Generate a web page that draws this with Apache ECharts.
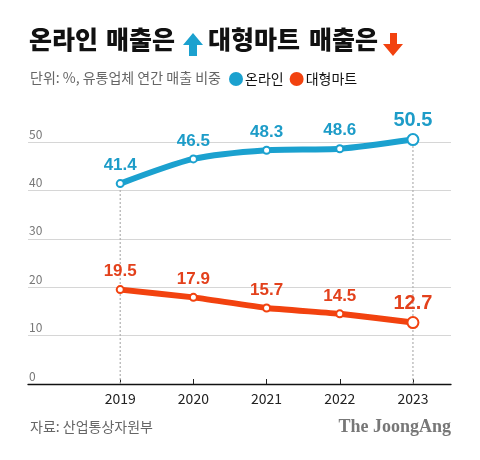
<!DOCTYPE html>
<html><head><meta charset="utf-8">
<script src="https://cdn.jsdelivr.net/npm/echarts@6/dist/echarts.min.js"></script>
<style>html,body{margin:0;padding:0;background:#fff}#c{width:480px;height:460px}</style>
</head><body><div id="c"></div>
<script>
var years = [2019, 2020, 2021, 2022, 2023];
var online = [41.4, 46.5, 48.3, 48.6, 50.5];
var mart = [19.5, 17.9, 15.7, 14.5, 12.7];
var yTicks = [0, 10, 20, 30, 40, 50];
var seriesNames = ['온라인', '대형마트'];
var guideYears = [2019, 2023];

var BLUE = '#1ba1cf', RED = '#f2420f';
var FONT = '"Noto Sans CJK KR", "Noto Sans", sans-serif';
var TF = '900 25px ' + FONT;

function pts(vals) {
  return vals.map(function (v, i) {
    var last = i === vals.length - 1;
    return {
      value: [years[i], v],
      symbolSize: last ? 11 : 7,
      label: { fontSize: last ? 20 : 17, distance: last ? 3 : 5 }
    };
  });
}

var guideSeries = guideYears.map(function (yr) {
  var top = online[years.indexOf(yr)];
  return {
    type: 'line', data: [[yr, 0], [yr, top]], symbol: 'none', silent: true, clip: false, z: 1,
    lineStyle: { color: '#b0b0b0', type: [2, 2], width: 1.2 }, legendHoverLink: false
  };
});

var chart = echarts.init(document.getElementById('c'));
chart.setOption({
  animation: false,
  textStyle: { fontFamily: FONT },
  graphic: [
    { type: 'text', left: 29, top: 27, style: { text: '온라인', font: TF, fill: '#111' } },
    { type: 'text', left: 106, top: 27, style: { text: '매출은', font: TF, fill: '#111' } },
    { type: 'polygon', shape: { points: [[183, 45], [193, 33], [203, 45], [197, 45], [197, 56], [189, 56], [189, 45]] }, style: { fill: BLUE } },
    { type: 'text', left: 208, top: 27, style: { text: '대형마트', font: TF, fill: '#111' } },
    { type: 'text', left: 309, top: 27, style: { text: '매출은', font: TF, fill: '#111' } },
    { type: 'polygon', shape: { points: [[390, 33], [397, 33], [397, 44], [403, 44], [393, 56], [383, 44], [390, 44]] }, style: { fill: RED } },
    { type: 'text', left: 30, top: 71, style: { text: '단위: %, 유통업체 연간 매출 비중', font: '14px ' + FONT, fill: '#666' } },
    { type: 'text', left: 30, top: 420, style: { text: '자료: 산업통상자원부', font: '14px ' + FONT, fill: '#666' } },
    { type: 'text', right: 29, top: 418, style: { text: 'The JoongAng', font: 'bold 18px "Liberation Serif", "DejaVu Serif", serif', fill: '#777' } }
  ],
  legend: {
    left: 229, top: 72, padding: 0, itemGap: 6, itemWidth: 14, itemHeight: 14,
    icon: 'circle',
    textStyle: { fontSize: 14, color: '#111', fontFamily: FONT, padding: [0, 0, 0, -3] },
    data: [
      { name: seriesNames[0], itemStyle: { color: BLUE, borderWidth: 0 } },
      { name: seriesNames[1], itemStyle: { color: RED, borderWidth: 0 } }
    ]
  },
  grid: { left: 28, right: 29, top: 142, bottom: 76 },
  xAxis: {
    type: 'value', min: 2017.74, max: 2023.52,
    splitLine: { show: false },
    axisLine: { show: true, onZero: true, lineStyle: { color: '#111', width: 1.3 } },
    axisTick: { show: true, inside: true, length: 5, customValues: years, lineStyle: { color: '#222' } },
    axisLabel: { customValues: years, fontSize: 14, color: '#222', margin: 8, fontFamily: FONT,
      formatter: function (v) { return String(v); } }
  },
  yAxis: {
    type: 'value', min: 0, max: 50, interval: 10,
    axisLine: { show: false }, axisTick: { show: false },
    splitLine: { lineStyle: { color: '#d6d6d6', width: 1 } },
    axisLabel: { inside: true, margin: 1, verticalAlign: 'bottom', padding: [0, 0, 2, 0], fontSize: 12, color: '#777', fontFamily: FONT,
      customValues: yTicks }
  },
  series: guideSeries.concat([
    {
      name: seriesNames[0], type: 'line', data: pts(online), smooth: 0.25, clip: false,
      lineStyle: { color: BLUE, width: 6 },
      itemStyle: { color: BLUE, borderColor: BLUE, borderWidth: 1.5 },
      symbol: 'emptyCircle', showAllSymbol: true, z: 3,
      label: { show: true, position: 'top', color: '#1d9cc8', fontWeight: 'bold', fontFamily: '"Liberation Sans", Arial, sans-serif' }
    },
    {
      name: seriesNames[1], type: 'line', data: pts(mart), smooth: 0.1, clip: false,
      lineStyle: { color: RED, width: 6 },
      itemStyle: { color: RED, borderColor: RED, borderWidth: 1.5 },
      symbol: 'emptyCircle', showAllSymbol: true, z: 4,
      label: { show: true, position: 'top', color: '#e3411c', fontWeight: 'bold', fontFamily: '"Liberation Sans", Arial, sans-serif' }
    }
  ])
});
</script></body></html>
